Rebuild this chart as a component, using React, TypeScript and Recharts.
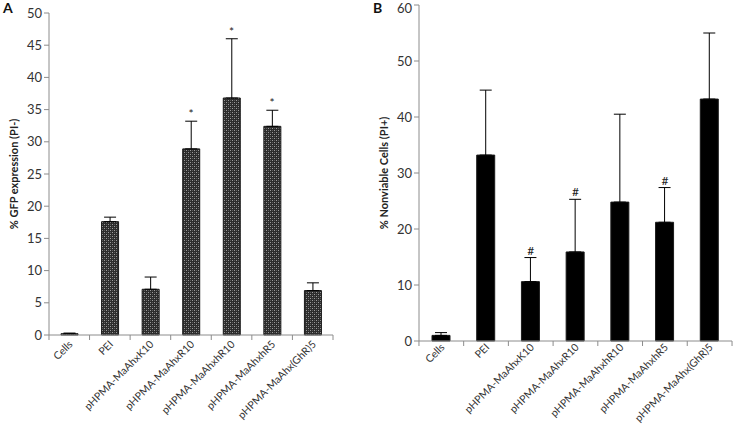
import { ComposedChart, Bar, ErrorBar, Scatter, XAxis, YAxis } from "recharts";

const categories = [
  "Cells",
  "PEI",
  "pHPMA-MaAhxK10",
  "pHPMA-MaAhxR10",
  "pHPMA-MaAhxhR10",
  "pHPMA-MaAhxhR5",
  "pHPMA-MaAhx(GhR)5",
];

// Panel A: % GFP expression (PI-)
const gfpValues = [0.2, 17.6, 7.1, 28.9, 36.8, 32.4, 6.9];
const gfpErrors = [0.1, 0.7, 1.9, 4.3, 9.2, 2.5, 1.2];
const gfpMarks = ["", "", "", "*", "*", "*", ""];
const gfpTicks = [0, 5, 10, 15, 20, 25, 30, 35, 40, 45, 50];

// Panel B: % Nonviable cells (PI+)
const nonviableValues = [1.0, 33.2, 10.6, 15.9, 24.8, 21.2, 43.2];
const nonviableErrors = [0.5, 11.6, 4.3, 9.4, 15.7, 6.2, 11.8];
const nonviableMarks = ["", "", "#", "#", "", "#", ""];
const nonviableTicks = [0, 10, 20, 30, 40, 50, 60];

const FONT = "Lato, 'Open Sans', sans-serif";
const AXIS = "#8c8c8c";

const buildRows = (values: number[], errors: number[], marks: string[]) =>
  categories.map((name, i) => ({
    name,
    value: values[i],
    err: [0, errors[i]],
    top: values[i] + errors[i],
    mark: marks[i],
  }));

const CategoryTick = (props: any) => {
  const { x, y, payload, index, half, count, drop } = props;
  const ax = x + 4;
  const ay = y + drop;
  return (
    <g>
      <line x1={x - half} y1={y} x2={x - half} y2={y + 5} stroke={AXIS} />
      {index === count - 1 && <line x1={x + half} y1={y} x2={x + half} y2={y + 5} stroke={AXIS} />}
      <text
        x={ax}
        y={ay}
        textAnchor="end"
        transform={`rotate(-45 ${ax} ${ay})`}
        fontSize={10.5}
        fontFamily={FONT}
        fill="#333"
      >
        {payload.value}
      </text>
    </g>
  );
};

interface PanelProps {
  width: number;
  top: number;
  right: number;
  xHeight: number;
  half: number;
  drop: number;
  barSize: number;
  fill: string;
  max: number;
  ticks: number[];
  title: string;
  rows: ReturnType<typeof buildRows>;
  pattern?: boolean;
}

function Panel(p: PanelProps) {
  return (
    <ComposedChart
      width={p.width}
      height={425}
      data={p.rows}
      margin={{ top: p.top, right: p.right, left: 9, bottom: 0 }}
    >
      {p.pattern && (
        <defs>
          <pattern id="checker" width="4" height="4" patternUnits="userSpaceOnUse">
            <rect width="4" height="4" fill="#2c2c2c" />
            <rect x="0" y="0" width="1" height="1" fill="#9c9c9c" />
            <rect x="2" y="2" width="1" height="1" fill="#9c9c9c" />
            <rect x="2" y="0" width="1" height="1" fill="#5a5a5a" />
            <rect x="0" y="2" width="1" height="1" fill="#5a5a5a" />
          </pattern>
        </defs>
      )}
      <XAxis
        dataKey="name"
        interval={0}
        height={p.xHeight}
        axisLine={{ stroke: AXIS }}
        tickLine={false}
        tickSize={0}
        tickMargin={0}
        tick={<CategoryTick half={p.half} count={categories.length} drop={p.drop} />}
      />
      <YAxis
        domain={[0, p.max]}
        ticks={p.ticks}
        width={40}
        axisLine={{ stroke: AXIS }}
        tickLine={{ stroke: AXIS }}
        tickSize={5}
        tick={{ fontSize: 13, fill: "#333", fontFamily: FONT }}
        label={{
          value: p.title,
          angle: -90,
          position: "insideLeft",
          offset: 5,
          style: { fontSize: 11, fontWeight: 700, fill: "#222", fontFamily: FONT, textAnchor: "middle" },
        }}
      />
      <Bar
        dataKey="value"
        barSize={p.barSize}
        fill={p.fill}
        stroke="#1a1a1a"
        strokeWidth={1}
        isAnimationActive={false}
      >
        <ErrorBar dataKey="err" width={6} stroke="#000" strokeWidth={1} />
      </Bar>
      <Scatter
        dataKey="top"
        isAnimationActive={false}
        shape={(s: any) =>
          s.payload.mark ? (
            <text
              x={s.cx}
              y={s.cy - 3}
              textAnchor="middle"
              fontSize={12}
              fontFamily={FONT}
              fill="#222"
            >
              {s.payload.mark}
            </text>
          ) : (
            <g />
          )
        }
      />
    </ComposedChart>
  );
}

export default function App() {
  const rowsA = buildRows(gfpValues, gfpErrors, gfpMarks);
  const rowsB = buildRows(nonviableValues, nonviableErrors, nonviableMarks);
  const letter = { position: "absolute" as const, fontFamily: FONT, fontWeight: 700, fontSize: 14, color: "#111" };

  return (
    <div style={{ position: "absolute", left: 0, top: 0, width: 734, height: 425, background: "#fff" }}>
      <div style={{ position: "absolute", left: 0, top: 0 }}>
        <Panel
          width={370}
          top={13}
          right={37}
          xHeight={90}
          half={20.3}
          drop={10}
          barSize={17}
          fill="url(#checker)"
          max={50}
          ticks={gfpTicks}
          title="% GFP expression (PI-)"
          rows={rowsA}
          pattern
        />
      </div>
      <div style={{ position: "absolute", left: 370, top: 0 }}>
        <Panel
          width={364}
          top={5}
          right={2}
          xHeight={84}
          half={22.4}
          drop={7}
          barSize={18}
          fill="#000"
          max={60}
          ticks={nonviableTicks}
          title="% Nonviable Cells (PI+)"
          rows={rowsB}
        />
      </div>
      <span style={{ ...letter, left: 3, top: -1 }}>A</span>
      <span style={{ ...letter, left: 373, top: -1 }}>B</span>
    </div>
  );
}
